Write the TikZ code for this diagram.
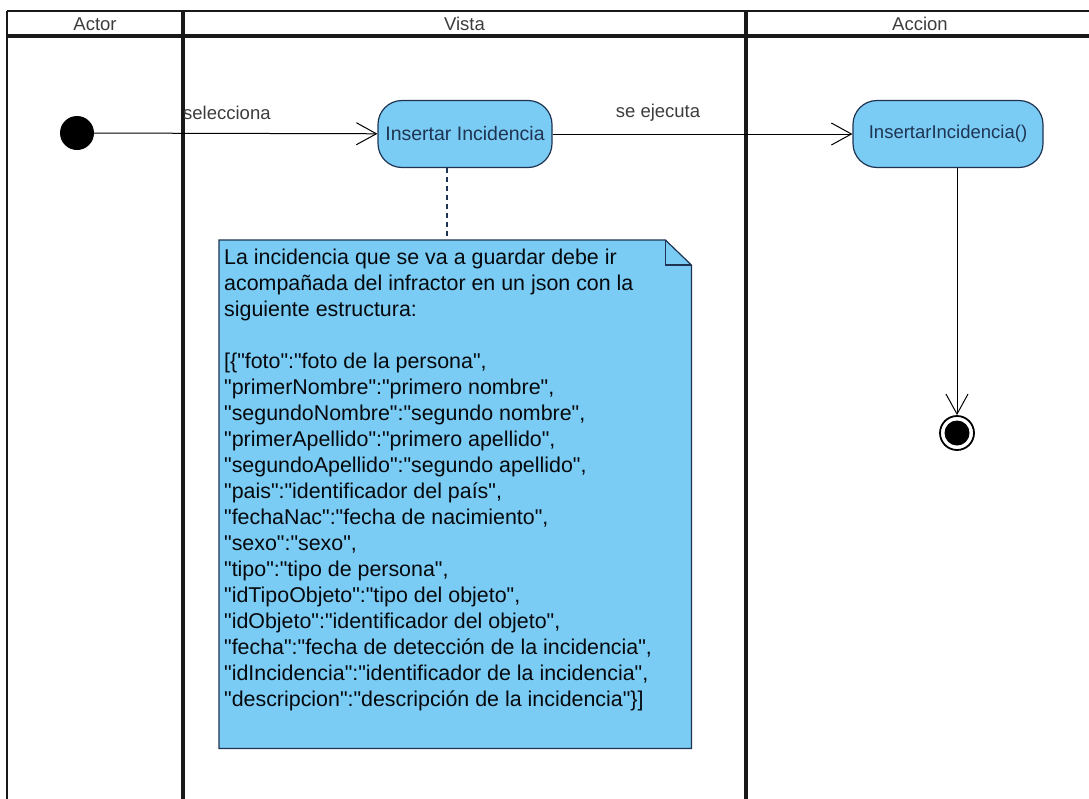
\documentclass[tikz,border=0pt]{standalone}
\usepackage{fontspec}
\setmainfont{Liberation Sans}[Ligatures=TeXOff]
\usetikzlibrary{arrows.meta}
\definecolor{actfill}{RGB}{122,204,244}
\definecolor{actline}{RGB}{31,52,82}
\definecolor{lanegray}{RGB}{25,25,25}
\definecolor{labelgray}{RGB}{60,60,60}

\begin{document}
\begin{tikzpicture}
        [x=1pt,y=-1pt,
         act/.style={draw=actline,fill=actfill,line width=1.2pt,rounded corners=24pt,
           minimum width=174pt,minimum height=67pt,inner sep=0,text=actline,
           font=\fontsize{18.5}{22}\selectfont},
         lanehead/.style={text=labelgray,font=\fontsize{18.5}{22}\selectfont},
         flowlabel/.style={text=labelgray,font=\fontsize{18.5}{22}\selectfont,inner sep=0},
         flow/.style={draw=black,line width=1pt,-{Straight Barb[length=20pt,width=22pt,line width=1pt]}},
         lane/.style={draw=lanegray,line width=3.4pt},
         lanethin/.style={draw=lanegray,line width=2.5pt},
         notebox/.style={draw=actline,line width=1.2pt}]

        \clip (0,0) rectangle (1089,798);

        \draw[lanethin] (7,11) -- (1095,11);
        \draw[lane] (7,36) -- (1095,36);
        \draw[lanethin] (7,11) -- (7,800);
        \draw[lane] (183,11) -- (183,800);
        \draw[lane] (746,11) -- (746,800);

        \node[lanehead] (actor) at (95,24) {Actor};
        \node[lanehead] (vista) at (464.5,24) {Vista};
        \node[lanehead] (accion) at (920,24) {Accion};

        \node[circle,fill=black,inner sep=0,minimum size=34pt] (inicio) at (77,133) {};
        \node[act,font=\fontsize{19.5}{22}\selectfont] (insertar) at (465,134) {Insertar Incidencia};
        \node[act,minimum width=190pt] (ejecuta) at (948,134) {InsertarIncidencia()};
        \node[circle,draw=black,line width=1.8pt,inner sep=0,minimum size=34pt,
          path picture={\fill[black] (path picture bounding box.center) circle (12.5pt);}] (fin) at (957,433) {};

        \node[flowlabel,anchor=west] (selecciona) at (183,113) {selecciona};
        \node[flowlabel] (seejecuta) at (658,113) {se ejecuta};

        \draw[flow] (inicio) -- (insertar);
        \draw[flow] (insertar) -- (ejecuta);
        \draw[flow] (ejecuta.south -| fin) -- (fin);

        \node[anchor=north west,minimum width=472pt,minimum height=508pt,inner sep=0] (nota) at (219,240) {};
        \fill[actfill] (nota.north west) -- ([xshift=-26pt]nota.north east) -- ([yshift=-25pt]nota.north east)
          -- (nota.south east) -- (nota.south west) -- cycle;
        \draw[notebox] (nota.north west) -- ([xshift=-26pt]nota.north east) -- ([yshift=-25pt]nota.north east)
          -- (nota.south east) -- (nota.south west) -- cycle;
        \draw[notebox] ([xshift=-26pt]nota.north east) |- ([yshift=-25pt]nota.north east);
        \node[anchor=north west,align=left,inner sep=0,text=black!85!actline,
          font=\fontsize{21.4}{26}\selectfont] (notatexto) at (224,249) {%
          La incidencia que se va a guardar debe ir\\
          acompañada del infractor en un json con la\\
          siguiente estructura:\\[26pt]
          [\{"foto":"foto de la persona",\\
          "primerNombre":"primero nombre",\\
          "segundoNombre":"segundo nombre",\\
          "primerApellido":"primero apellido",\\
          "segundoApellido":"segundo apellido",\\
          "pais":"identificador del país",\\
          "fechaNac":"fecha de nacimiento",\\
          "sexo":"sexo",\\
          "tipo":"tipo de persona",\\
          "idTipoObjeto":"tipo del objeto",\\
          "idObjeto":"identificador del objeto",\\
          "fecha":"fecha de detección de la incidencia",\\
          "idIncidencia":"identificador de la incidencia",\\
          "descripcion":"descripción de la incidencia"\}]};

        \coordinate (ancla) at ([xshift=-18pt]insertar.south);
        \draw[actline,line width=1.2pt,dash pattern=on 5pt off 4pt] (ancla) -- (ancla |- nota.north);
      \end{tikzpicture}
\end{document}
